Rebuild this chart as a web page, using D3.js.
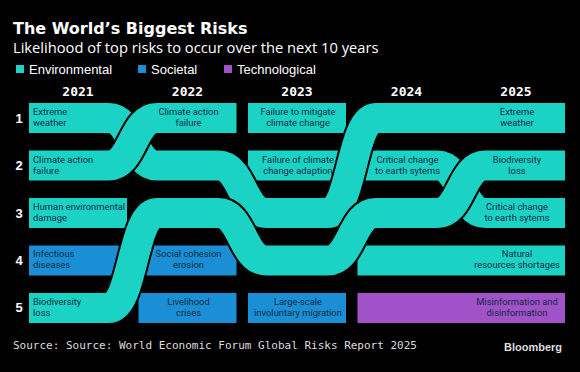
<!DOCTYPE html>
<html>
<head>
<meta charset="utf-8">
<script src="https://cdn.jsdelivr.net/npm/d3@7"></script>
<style>
body{margin:0;background:#000;}
svg{display:block;}
</style>
</head>
<body>
<script>
var years = ['2021','2022','2023','2024','2025'];
var ranks = [1,2,3,4,5];
var groups = ['Environmental','Societal','Technological'];
var groupColors = ['#1ad3c4','#1a8fd6','#a152c9'];

// risks in drawing order, later ones sit on top of earlier ones
var riskNames = ['Human environmental damage','Infectious diseases','Social cohesion erosion','Livelihood crises',
	'Failure to mitigate climate change','Failure of climate change adaption','Large-scale involuntary migration',
	'Natural resources shortages','Misinformation and disinformation','Critical change to earth sytems',
	'Extreme weather','Biodiversity loss','Climate action failure'];
var riskGroup = ['Environmental','Societal','Societal','Societal',
	'Environmental','Environmental','Societal',
	'Environmental','Technological','Environmental',
	'Environmental','Environmental','Environmental'];
// rank in each year, 0 = not in the top 5
var riskRanks = [[3,0,0,0,0],[4,0,0,0,0],[0,4,0,0,0],[0,5,0,0,0],
	[0,0,1,0,0],[0,0,2,0,0],[0,0,5,0,0],
	[0,0,0,4,4],[0,0,0,5,5],[0,0,0,2,3],
	[1,2,3,1,1],[5,3,4,3,2],[2,1,0,0,0]];
// years (index) where the name is written
var riskLabelYears = [[0],[0],[1],[1],[2],[2],[2],[4],[4],[3,4],[0,4],[0,4],[0,1]];
var riskLines = [['Human environmental','damage'],['Infectious','diseases'],['Social cohesion','erosion'],['Livelihood','crises'],
	['Failure to mitigate','climate change'],['Failure of climate','change adaption'],['Large-scale','involuntary migration'],
	['Natural','resources shortages'],['Misinformation and','disinformation'],['Critical change','to earth sytems'],
	['Extreme','weather'],['Biodiversity','loss'],['Climate action','failure']];

var width = 580, height = 372;
var bend = 24;

var color = d3.scaleOrdinal().domain(groups).range(groupColors);

var x = d3.scaleBand().domain(years).range([29,565]).paddingInner(0.105);
var y = d3.scaleBand().domain(ranks).range([103,323]).paddingInner(0.368);
var yc = r=>y(r)+y.bandwidth()/2;
var gap = i=>x(years[i])+x.bandwidth()+(x.step()-x.bandwidth())/2;

var svg = d3.select('body').append('svg').attr('width',width).attr('height',height);
svg.append('rect').attr('width',width).attr('height',height).attr('fill','#000');

// header
svg.append('text').attr('x',13).attr('y',34)
	.style('font','bold 16px "DejaVu Sans"').attr('fill','#fff')
	.text('The World\u2019s Biggest Risks');
svg.append('text').attr('x',13).attr('y',52.5)
	.style('font','14.7px "Open Sans"').attr('fill','#fff')
	.text('Likelihood of top risks to occur over the next 10 years');

var legend = svg.append('g').selectAll('g').data(groups).enter().append('g')
	.attr('transform',(d,i)=>`translate(${[16,138,224][i]},65)`);
legend.append('rect').attr('width',8).attr('height',8).attr('fill',d=>color(d));
legend.append('text').attr('x',13).attr('y',8.5)
	.style('font','13px "Liberation Sans"').attr('fill','#fff').text(d=>d);

svg.append('g').selectAll('text').data(years).enter().append('text')
	.attr('x',d=>x(d)+x.bandwidth()/2).attr('y',96).attr('text-anchor','middle')
	.style('font','bold 13px "DejaVu Sans Mono"').attr('fill','#fff').text(d=>d);

svg.append('g').selectAll('text').data(ranks).enter().append('text')
	.attr('x',19).attr('y',d=>yc(d)+4.5).attr('text-anchor','middle')
	.style('font','bold 13px "Liberation Sans"').attr('fill','#fff').text(d=>d);

// ribbons
function ribbonPoints(r){
	var pts = [];
	r.forEach((rank,i)=>{
		if(!rank) return;
		var prev = i>0 ? r[i-1] : 0;
		var next = i<r.length-1 ? r[i+1] : 0;
		pts.push(prev ? [gap(i-1)+bend, yc(rank)] : [x(years[i]), yc(rank)]);
		pts.push(next ? [gap(i)-bend, yc(rank)] : [x(years[i])+x.bandwidth(), yc(rank)]);
	});
	return pts;
}

var line = d3.line().curve(d3.curveBumpX);

var risks = riskNames.map((name,i)=>({name:name, group:riskGroup[i], ranks:riskRanks[i], labels:riskLabelYears[i], lines:riskLines[i]}));

var ribbon = svg.append('g').selectAll('g').data(risks).enter().append('g');
ribbon.append('path').attr('d',d=>line(ribbonPoints(d.ranks)))
	.attr('fill','none').attr('stroke','#000').attr('stroke-width',y.bandwidth()+4);
ribbon.append('path').attr('d',d=>line(ribbonPoints(d.ranks)))
	.attr('fill','none').attr('stroke',d=>color(d.group)).attr('stroke-width',y.bandwidth());

// labels
var labels = [];
risks.forEach(d=>d.labels.forEach(yi=>labels.push({risk:d, year:yi, rank:d.ranks[yi]})));
var labelX = d=>d.year==0 ? x(years[0])+4 : x(years[d.year])+x.bandwidth()/2+1;

var label = svg.append('g').selectAll('text').data(labels).enter().append('text')
	.attr('x',labelX)
	.attr('y',d=>yc(d.rank)-3)
	.attr('text-anchor',d=>d.year==0 ? 'start' : 'middle')
	.style('font','9.4px Roboto').attr('fill','#0b2a40');
label.selectAll('tspan').data(d=>d.risk.lines.map(t=>({t:t, d:d}))).enter().append('tspan')
	.attr('x',t=>labelX(t.d))
	.attr('dy',(t,i)=>i ? 11 : 0).text(t=>t.t);

// footer
svg.append('text').attr('x',13).attr('y',349)
	.style('font','11px "DejaVu Sans Mono"').attr('fill','#ddd')
	.text('Source: Source: World Economic Forum Global Risks Report 2025');
svg.append('text').attr('x',562).attr('y',351).attr('text-anchor','end')
	.style('font','bold 11px "Liberation Sans"').attr('fill','#ddd').text('Bloomberg');
</script>
</body>
</html>
